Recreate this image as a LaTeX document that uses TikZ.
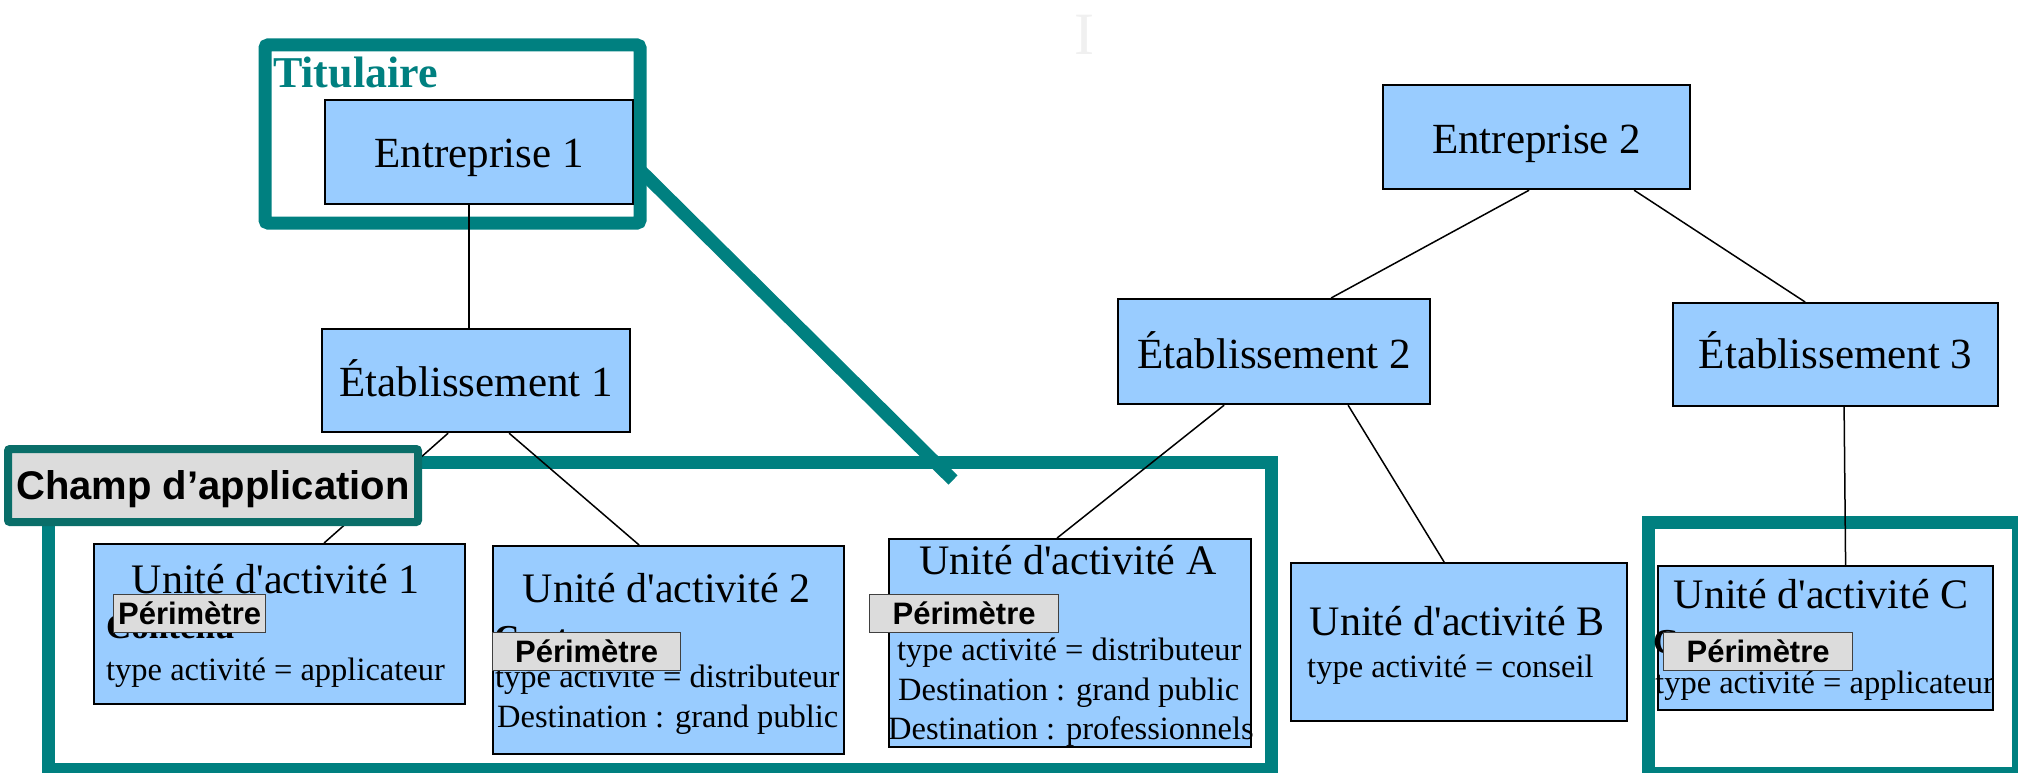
\documentclass[tikz,border=0pt]{standalone}
\usepackage{fontspec}
\setmainfont{Liberation Serif}
\newfontfamily\rawserif{Liberation Serif}
\newfontfamily\arialf{Liberation Sans}
\definecolor{tealc}{HTML}{008080}
\definecolor{tealdk}{HTML}{0A6E69}
\definecolor{boxblue}{HTML}{99CCFF}
\definecolor{lblgray}{HTML}{DCDCDC}
\newcommand\sq{{\rawserif\char"0027\relax}}
\begin{document}
\begin{tikzpicture}[x=1pt,y=-1pt,
  box/.style={draw=black, line width=2.2pt, fill=boxblue, inner sep=0pt, anchor=north west},
  big/.style={font=\fontsize{43pt}{50pt}\selectfont},
  ttl/.style={font=\fontsize{42pt}{48pt}\selectfont, inner sep=0pt, anchor=base},
  small/.style={font=\fontsize{32.5pt}{40pt}\selectfont, inner sep=0pt, anchor=base west},
  frame/.style={draw=tealc, line width=13pt},
  link/.style={draw=black, line width=1.5pt},
  perim/.style={draw=black!75, line width=1.2pt, fill=lblgray, inner sep=0pt, anchor=north west, minimum height=38pt, text height=30pt, text depth=8pt, font=\arialf\bfseries\fontsize{31pt}{36pt}\selectfont},
  hiddentxt/.style={font=\bfseries\fontsize{35pt}{40pt}\selectfont, inner sep=0pt, anchor=base west}
]
\useasboundingbox (0,0) rectangle (2018,773);
\fill[white] (0,0) rectangle (2018,773);

% faint cursor
\node[text=black!6, font=\fontsize{60pt}{60pt}\selectfont, inner sep=0pt, anchor=base] (cur) at (1084,55) {I};

% frames
\draw[frame, rounded corners=3pt] (265,45) rectangle (640,223);
\draw[frame] (48,462) rectangle (1271,769);
\draw[frame] (1648,522) rectangle (2018,773);
\coordinate (d1) at (640,170);
\coordinate (d2) at (953,480);
\draw[frame] (d1) -- (d2);

\node[anchor=base west, inner sep=0pt, text=tealc, font=\bfseries\fontsize{44pt}{50pt}\selectfont] (tit) at (273,88) {Titulaire};

% top boxes
\node[box, big, minimum width=308pt, minimum height=104pt, text height=67pt, text depth=37pt] (e1) at (324,99) {Entreprise 1};
\node[box, big, minimum width=308pt, minimum height=103pt, text height=67pt, text depth=36pt] (et1) at (321,328) {Établissement 1};
\node[box, big, minimum width=307pt, minimum height=104pt, text height=68pt, text depth=36pt] (e2) at (1382,84) {Entreprise 2};
\node[box, big, minimum width=312pt, minimum height=105pt, text height=69pt, text depth=36pt] (et2) at (1117,298) {Établissement 2};
\node[box, big, minimum width=325pt, minimum height=103pt, text height=65pt, text depth=38pt] (et3) at (1672,302) {Établissement 3};

% unit boxes
\node[box, minimum width=371pt, minimum height=160pt] (u1) at (93,543) {};
\node[box, minimum width=351pt, minimum height=208pt] (u2) at (492,545) {};
\node[box, minimum width=362pt, minimum height=208pt] (ua) at (888,538) {};
\node[box, minimum width=336pt, minimum height=158pt] (ub) at (1290,562) {};
\node[box, minimum width=335pt, minimum height=144pt] (uc) at (1657,565) {};

% connectors
\draw[link] ([xshift=-10pt]e1.south) -- ([xshift=-7pt]et1.north);
\draw[link] ([xshift=-28pt]et1.south) -- ([xshift=44.5pt]u1.north);
\draw[link] ([xshift=33pt]et1.south) -- ([xshift=-29.5pt]u2.north);
\draw[link] ([xshift=-7.5pt]e2.south) -- ([xshift=57pt]et2.north);
\draw[link] ([xshift=97.5pt]e2.south) -- ([xshift=-30.5pt]et3.north);
\draw[link] ([xshift=-50pt]et2.south) -- ([xshift=-13pt]ua.north);
\draw[link] ([xshift=74pt]et2.south) -- ([xshift=-15pt]ub.north);
\draw[link] ([xshift=8.5pt]et3.south) -- ([xshift=20pt]uc.north);

% unit texts
\node[ttl] (u1t) at (275.5,593) {Unité d\sq activité 1};
\node[hiddentxt] (u1c) at (106,638) {Contenu};
\node[small] (u1a) at (106,680) {type activité = applicateur};

\node[ttl] (u2t) at (666.5,602) {Unité d\sq activité 2};
\node[hiddentxt] (u2c) at (494,649) {Contenu};
\node[small] (u2a) at (495,687) {type activité = distributeur};
\node[small] (u2b) at (497,727) {Destination : grand public};

\node[ttl] (uat) at (1068,574) {Unité d\sq activité A};
\node[small] (uaa) at (897,660) {type activité = distributeur};
\node[small] (uab) at (898,700) {Destination : grand public};
\node[small] (uac) at (888,739) {Destination : professionnels};

\node[ttl] (ubt) at (1457,635) {Unité d\sq activité B};
\node[small] (uba) at (1307,677) {type activité = conseil};

\node[ttl] (uct) at (1821,608) {Unité d\sq activité C};
\node[hiddentxt] (ucc) at (1653,653) {Contenu};
\node[small] (uca) at (1655,693) {type activité = applicateur};

% labels
\node[draw=tealdk, line width=8pt, fill=lblgray, rounded corners=2pt, inner sep=0pt, anchor=north west, minimum width=410pt, minimum height=73pt, text height=50pt, text depth=23pt, font=\arialf\bfseries\fontsize{40pt}{46pt}\selectfont] (champ) at (4,445) {Champ d’application};

\node[perim, minimum width=152pt] (p1) at (113,594) {Périmètre};
\node[perim, minimum width=188pt] (p2) at (492,632) {Périmètre};
\node[perim, minimum width=189pt] (pa) at (869,594) {Périmètre};
\node[perim, minimum width=189pt] (pc) at (1663,632) {Périmètre};
\end{tikzpicture}
\end{document}
